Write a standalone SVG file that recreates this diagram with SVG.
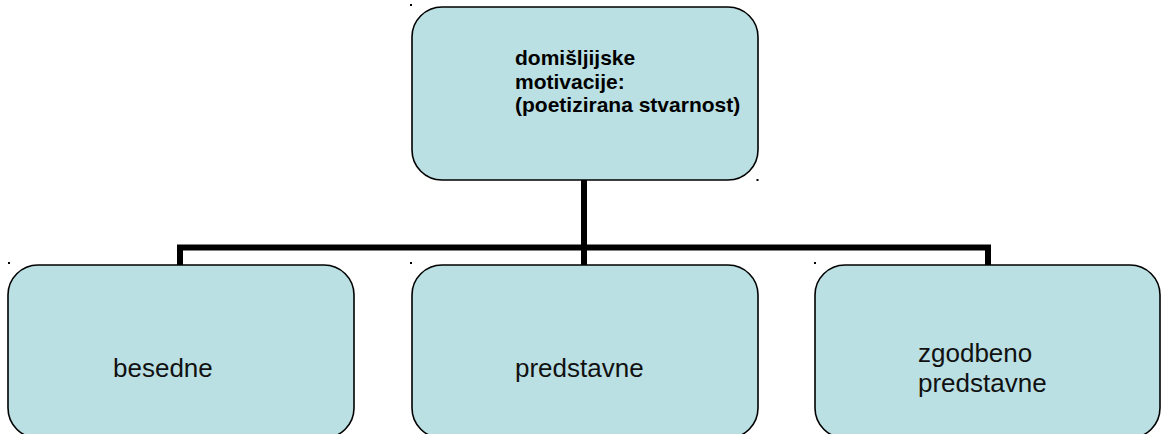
<svg xmlns="http://www.w3.org/2000/svg" width="1161" height="434" viewBox="0 0 1161 434">
  <style>
    .box { fill: #BAE0E3; stroke: #000000; stroke-width: 1.6; }
    .head { font-family: "Liberation Sans", Arial, sans-serif; font-size: 21px; font-weight: bold; fill: #000000; }
    .leaf { font-family: "Liberation Sans", Arial, sans-serif; font-size: 26px; fill: #111111; }
    .wire { fill: none; stroke: #000000; stroke-width: 6; stroke-linejoin: miter; }
    .mark { fill: #000000; }
  </style>
  <rect width="1161" height="434" fill="#FFFFFF"/>

  <!-- tree connectors: root trunk and branch bar -->
  <g id="connectors">
    <line class="wire" x1="584" y1="180" x2="584" y2="248"/>
    <polyline class="wire" points="180,266 180,247.5 988,247.5 988,266"/>
    <line class="wire" x1="584" y1="247" x2="584" y2="266"/>
  </g>

  <!-- empty placeholder marks -->
  <g id="marks">
    <rect class="mark" x="410" y="4" width="2" height="2"/>
    <rect class="mark" x="756.5" y="179" width="2" height="2"/>
    <rect class="mark" x="8" y="262" width="2" height="2"/>
    <rect class="mark" x="410" y="262" width="2" height="2"/>
    <rect class="mark" x="814" y="262" width="2" height="2"/>
  </g>

  <g id="root">
    <rect class="box" x="412" y="7" width="346" height="173" rx="30" ry="30"/>
    <text class="head" x="515" y="65">domišljijske</text>
    <text class="head" x="515" y="88.5">motivacije:</text>
    <text class="head" x="515" y="112">(poetizirana stvarnost)</text>
  </g>

  <g id="besedne">
    <rect class="box" x="8" y="265" width="346" height="173" rx="30" ry="30"/>
    <text class="leaf" x="113" y="377">besedne</text>
  </g>

  <g id="predstavne">
    <rect class="box" x="412" y="265" width="346" height="173" rx="30" ry="30"/>
    <text class="leaf" x="515" y="377">predstavne</text>
  </g>

  <g id="zgodbeno-predstavne">
    <rect class="box" x="815" y="265" width="345" height="173" rx="30" ry="30"/>
    <text class="leaf" x="918" y="362">zgodbeno</text>
    <text class="leaf" x="918" y="392">predstavne</text>
  </g>
</svg>
